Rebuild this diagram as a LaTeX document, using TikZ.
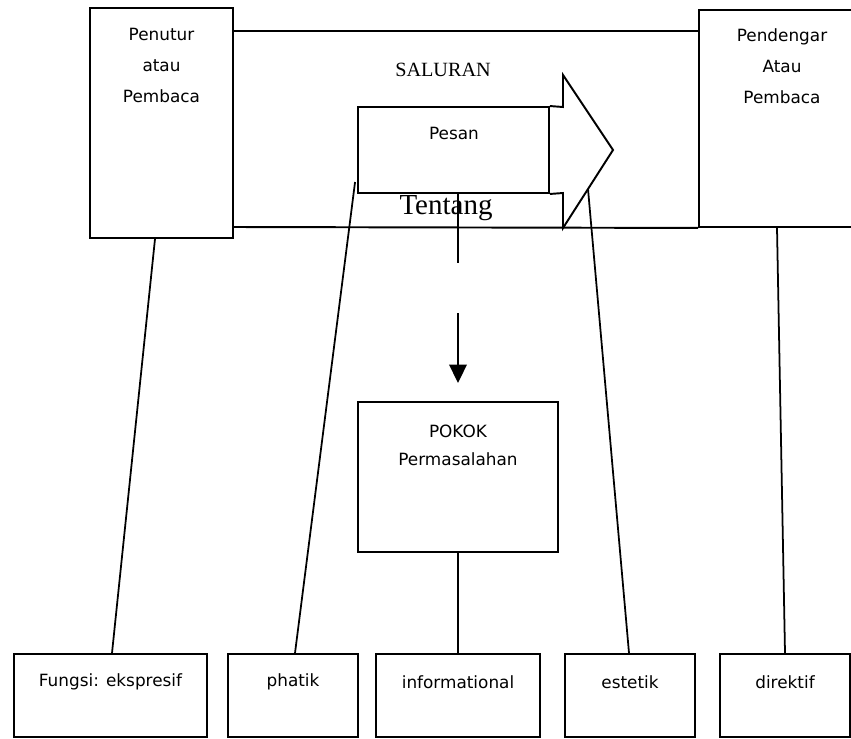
\documentclass[tikz,border=0pt]{standalone}
\usepackage{fontspec}
\setmainfont{Liberation Serif}
\newfontfamily\sansf{DejaVu Sans}
\usetikzlibrary{arrows.meta,calc}
\begin{document}
\begin{tikzpicture}[x=0.02cm,y=-0.02cm,
  box/.style={draw, line width=1.1pt, inner sep=0pt, fill=white},
  lbl/.style={font=\sansf\fontsize{9.6}{17.6}\selectfont, align=center, inner sep=0pt},
  con/.style={line width=1pt},
  hline/.style={line width=1.1pt}
]
\useasboundingbox (0,0) rectangle (851,738);
\clip (0,0) rectangle (851,738);
\fill[white] (0,0) rectangle (851,738);

% main boxes
\node[box, minimum width=2.86cm, minimum height=4.6cm] (L) at (161.5,123) {};
\node[box, minimum width=3.32cm, minimum height=4.34cm] (R) at (782,118.5) {};
\node[box, minimum width=3.82cm, minimum height=1.72cm] (P) at (453.5,150) {};
\node[box, minimum width=4cm, minimum height=3cm] (K) at (458,477) {};

% bottom boxes
\node[box, minimum width=3.86cm, minimum height=1.66cm] (F) at (110.5,695.5) {};
\node[box, minimum width=2.6cm, minimum height=1.66cm] (Ph) at (293,695.5) {};
\node[box, minimum width=3.28cm, minimum height=1.66cm] (In) at (458,695.5) {};
\node[box, minimum width=2.6cm, minimum height=1.66cm] (Es) at (630,695.5) {};
\node[box, minimum width=2.6cm, minimum height=1.66cm] (Di) at (785,695.5) {};

% channel lines
\draw[hline] (L.east |- 0,31) -- (R.west |- 0,31);
\draw[hline] (L.east |- 0,227) -- (R.south west);

% block arrow head
\coordinate (h1) at (563,107);
\coordinate (h2) at (563,75);
\coordinate (h3) at (613,150);
\coordinate (h4) at (563,228);
\coordinate (h5) at (563,193);
\draw[line width=1.1pt, line join=miter] (P.north east) -- (h1) -- (h2) -- (h3) -- (h4) -- (h5) -- (P.south east);
\coordinate (hdl) at (588,189);

% connectors
\draw[con] ($(L.south)+(-6.5,0)$) -- ($(F.north)+(1.5,0)$);
\draw[con] ($(P.west)+(-2,32)$) -- ($(Ph.north)+(2,0)$);
\draw[con] (hdl) -- ($(Es.north)+(-1,0)$);
\draw[con] ($(R.south)+(-5,0)$) -- (Di.north);
\coordinate (v1) at (458,263);
\draw[con] (P.south -| v1) -- (v1);
\coordinate (a1) at (458,313);
\coordinate (a2) at (458,383);
\draw[con, -{Triangle[length=10.5pt,width=10pt]}] (a1) -- (a2);
\draw[con] (K.south) -- (In.north);

% texts
\node[lbl, anchor=north] (tL) at (161.5,28) {Penutur\\atau\\Pembaca};
\node[lbl, anchor=north] (tR) at (782,28) {Pendengar\\Atau\\Pembaca};
\node[font=\fontsize{11.5}{13}\selectfont, inner sep=0pt] (sal) at (443,70) {SALURAN};
\node[lbl] (tP) at (454,133) {Pesan};
\node[font=\fontsize{16.5}{19}\selectfont, anchor=base, inner sep=0pt] (ten) at (446,214) {Tentang};
\node[lbl, anchor=north, font=\sansf\fontsize{9.6}{16}\selectfont] (tK) at (458,424.5) {POKOK\\Permasalahan};
\node[lbl] (tF) at (110.5,682) {Fungsi: ekspresif};
\node[lbl] (tPh) at (293,682) {phatik};
\node[lbl] (tIn) at (458,682) {informational};
\node[lbl] (tEs) at (630,682) {estetik};
\node[lbl] (tDi) at (785,682) {direktif};
\end{tikzpicture}
\end{document}
